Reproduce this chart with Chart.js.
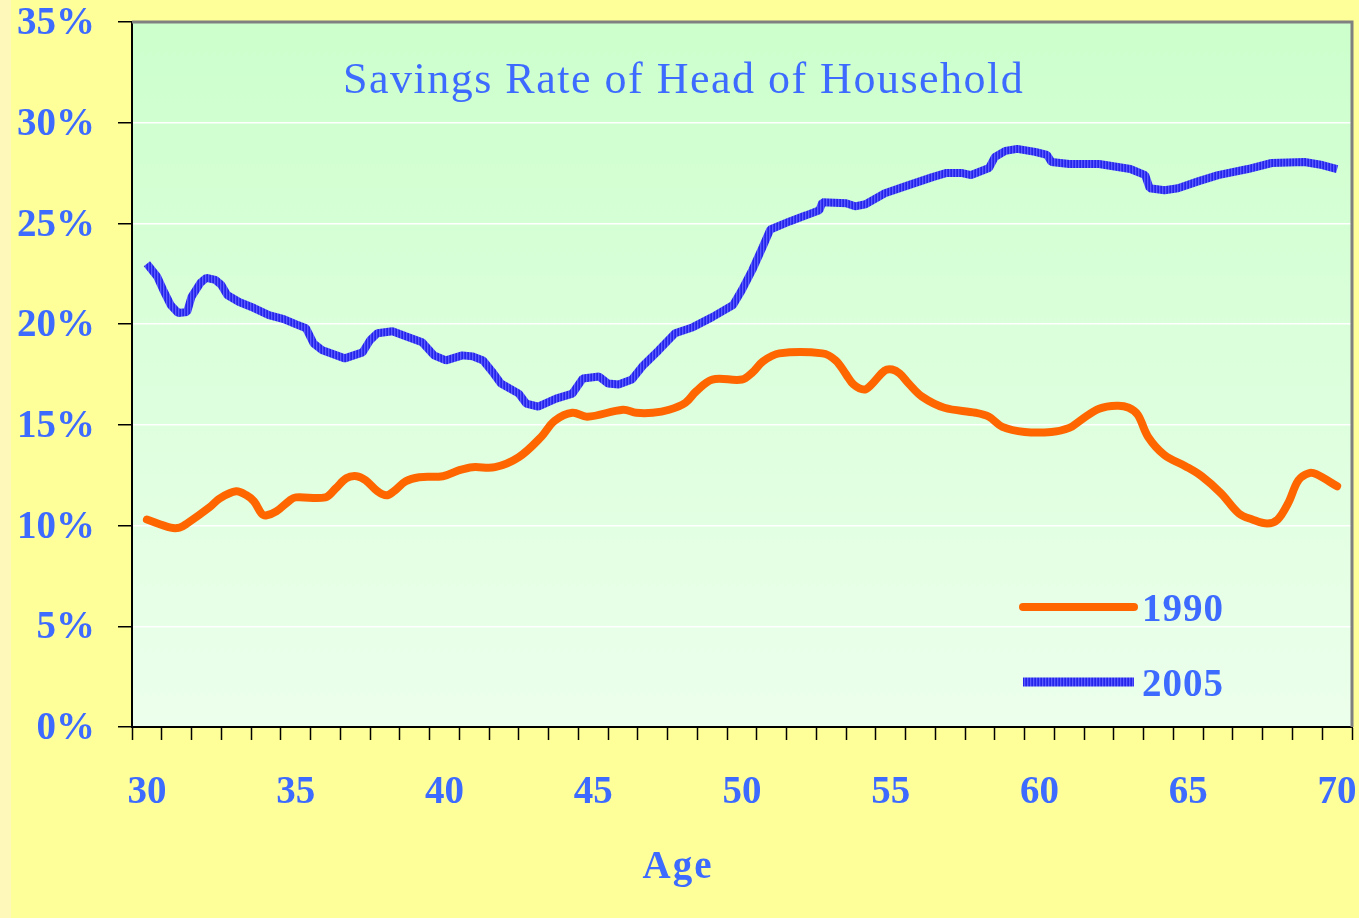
<!DOCTYPE html>
<html lang="en">
<head>
    <meta charset="UTF-8">
    <title>Savings Rate of Head of Household</title>
    <script src="https://cdn.jsdelivr.net/npm/chart.js"></script>
    <style>
        body {
            margin: 0;
            padding: 0;
            background: linear-gradient(to right, #fff8bb 0, #fff8bb 11px, #ffff99 11px);
            width: 1359px;
            height: 918px;
            overflow: hidden;
        }
        #chart {
            display: block;
        }
    </style>
</head>
<body>
    <canvas id="chart" width="1359" height="918"></canvas>

    <script>
        // ages sampled from the picture and the matching savings rates (%)
        const ages1990 = [30.0, 30.8, 31.1, 31.35, 32.1, 32.45, 33.0, 33.35, 33.6, 33.85, 34.0, 34.35, 34.8, 35.0, 36.0, 36.35, 36.7, 37.05, 37.35, 37.75, 38.05, 38.3, 38.7, 39.15, 39.95, 40.5, 40.95, 41.7, 42.5, 43.25, 43.7, 44.3, 44.8, 46.0, 46.45, 47.0, 47.55, 48.1, 48.45, 49.0, 50.0, 50.35, 50.7, 51.25, 52.7, 53.15, 53.5, 53.75, 54.1, 54.35, 54.8, 55.05, 55.3, 55.6, 56.05, 56.8, 57.85, 58.3, 58.75, 59.5, 60.4, 61.0, 61.4, 62.0, 62.6, 63.0, 63.3, 63.65, 64.2, 64.9, 65.45, 66.1, 66.7, 67.15, 67.65, 68.0, 68.35, 68.7, 69.05, 69.3, 70.0];
        const rate1990 = [10.3, 9.9, 9.9, 10.1, 10.9, 11.35, 11.7, 11.5, 11.2, 10.6, 10.5, 10.7, 11.25, 11.4, 11.4, 11.85, 12.35, 12.45, 12.25, 11.7, 11.5, 11.7, 12.2, 12.4, 12.45, 12.75, 12.9, 12.9, 13.4, 14.4, 15.2, 15.6, 15.4, 15.75, 15.6, 15.6, 15.75, 16.1, 16.65, 17.25, 17.25, 17.6, 18.15, 18.55, 18.55, 18.2, 17.5, 17.0, 16.75, 17.0, 17.7, 17.75, 17.55, 17.05, 16.4, 15.85, 15.6, 15.4, 14.9, 14.65, 14.65, 14.85, 15.25, 15.8, 15.95, 15.85, 15.5, 14.4, 13.5, 12.95, 12.45, 11.6, 10.6, 10.3, 10.1, 10.3, 11.1, 12.25, 12.6, 12.55, 11.95];

        const ages2005 = [30.0, 30.35, 30.55, 30.8, 31.05, 31.35, 31.5, 31.8, 32.0, 32.3, 32.5, 32.7, 33.1, 33.6, 34.1, 34.6, 35.0, 35.35, 35.6, 35.9, 36.65, 37.25, 37.5, 37.75, 38.25, 38.7, 39.25, 39.65, 40.05, 40.6, 40.95, 41.3, 41.6, 41.9, 42.5, 42.75, 43.15, 43.75, 44.3, 44.65, 45.2, 45.5, 45.85, 46.3, 46.65, 47.2, 47.75, 48.35, 49.0, 49.7, 50.0, 50.35, 50.7, 50.95, 51.6, 52.15, 52.6, 52.7, 53.5, 53.8, 54.15, 54.8, 55.6, 56.4, 56.85, 57.4, 57.7, 58.3, 58.5, 58.85, 59.25, 59.85, 60.25, 60.4, 61.0, 62.0, 63.05, 63.55, 63.7, 64.2, 64.65, 65.35, 66.0, 67.0, 67.8, 68.9, 69.5, 70.0];
        const rate2005 = [23.0, 22.35, 21.7, 20.95, 20.55, 20.6, 21.35, 22.05, 22.3, 22.2, 21.95, 21.45, 21.1, 20.8, 20.45, 20.25, 20.0, 19.8, 19.05, 18.7, 18.3, 18.6, 19.2, 19.55, 19.65, 19.4, 19.1, 18.45, 18.2, 18.45, 18.4, 18.2, 17.65, 17.05, 16.55, 16.05, 15.9, 16.3, 16.55, 17.3, 17.4, 17.05, 17.0, 17.25, 17.9, 18.7, 19.55, 19.85, 20.35, 20.95, 21.7, 22.7, 23.85, 24.7, 25.1, 25.4, 25.65, 26.05, 26.0, 25.85, 25.95, 26.5, 26.9, 27.3, 27.5, 27.5, 27.4, 27.75, 28.3, 28.6, 28.7, 28.55, 28.4, 28.05, 27.95, 27.95, 27.7, 27.4, 26.75, 26.65, 26.75, 27.1, 27.4, 27.7, 28.0, 28.05, 27.9, 27.7];

        // one tick mark per year, a label every 5 years
        const ageTicks = [];
        for (let a = 30; a <= 70; a++) ageTicks.push(a);
        const ageLabels = [30, 35, 40, 45, 50, 55, 60, 65, 70];

        const seriesNames = ['1990', '2005'];
        const chartTitle = 'Savings Rate of Head of Household';
        const xTitle = 'Age';

        const textBlue = '#3d6bff';
        const orange = '#ff6600';
        const serif = "'Liberation Serif', 'Times New Roman', serif";

        // striped blue stroke like the original line
        function stripePattern(ctx) {
            const c = document.createElement('canvas');
            c.width = 3;
            c.height = 4;
            const p = c.getContext('2d');
            p.fillStyle = '#2525e8'; p.fillRect(0, 0, 1, 4);
            p.fillStyle = '#5a5aff'; p.fillRect(1, 0, 1, 4);
            p.fillStyle = '#3535f4'; p.fillRect(2, 0, 1, 4);
            return ctx.createPattern(c, 'repeat');
        }

        const canvas = document.getElementById('chart');
        const blueStripes = stripePattern(canvas.getContext('2d'));

        const toPoints = (xs, ys) => xs.map((x, i) => ({ x: x, y: ys[i] }));

        const decor = {
            id: 'decor',
            beforeDraw(chart) {
                const { ctx, chartArea: a } = chart;
                const g = ctx.createLinearGradient(0, a.top, 0, a.bottom);
                g.addColorStop(0, '#ccffcc');
                g.addColorStop(1, '#ecffec');
                ctx.save();
                ctx.fillStyle = g;
                ctx.fillRect(a.left, a.top, a.right - a.left, a.bottom - a.top);
                ctx.restore();
            },
            afterDraw(chart) {
                const { ctx, chartArea: a } = chart;
                ctx.save();
                // grey frame on top and right
                ctx.strokeStyle = '#808080';
                ctx.lineWidth = 3;
                ctx.beginPath();
                ctx.moveTo(a.left, a.top);
                ctx.lineTo(a.right, a.top);
                ctx.lineTo(a.right, a.bottom);
                ctx.stroke();

                // title inside the plot
                ctx.fillStyle = textBlue;
                ctx.textBaseline = 'alphabetic';
                ctx.textAlign = 'left';
                ctx.font = '44px ' + serif;
                ctx.letterSpacing = '1.5px';
                ctx.fillText(chartTitle, a.left + 211, a.top + 71);

                // axis title
                ctx.font = 'bold 39px ' + serif;
                ctx.letterSpacing = '2px';
                ctx.textAlign = 'center';
                ctx.fillText(xTitle, a.left + 546, a.bottom + 151);

                // legend
                const lx0 = a.left + 891, lx1 = a.left + 1002;
                const rows = [
                    { y: a.bottom - 120, style: orange, cap: 'round', w: 8 },
                    { y: a.bottom - 45, style: blueStripes, cap: 'butt', w: 9 }
                ];
                ctx.letterSpacing = '1px';
                ctx.textAlign = 'left';
                rows.forEach((r, i) => {
                    ctx.strokeStyle = r.style;
                    ctx.lineCap = r.cap;
                    ctx.lineWidth = r.w;
                    ctx.beginPath();
                    ctx.moveTo(lx0, r.y);
                    ctx.lineTo(lx1, r.y);
                    ctx.stroke();
                    ctx.fillStyle = textBlue;
                    ctx.fillText(seriesNames[i], lx1 + 8, r.y + 14);
                });
                ctx.restore();
            }
        };

        new Chart(canvas, {
            type: 'line',
            data: {
                datasets: [
                    {
                        label: seriesNames[0],
                        data: toPoints(ages1990, rate1990),
                        borderColor: orange,
                        borderWidth: 8,
                        borderCapStyle: 'round',
                        borderJoinStyle: 'round',
                        tension: 0.35,
                        pointRadius: 0,
                        fill: false
                    },
                    {
                        label: seriesNames[1],
                        data: toPoints(ages2005, rate2005),
                        borderColor: blueStripes,
                        borderWidth: 8,
                        borderCapStyle: 'butt',
                        borderJoinStyle: 'bevel',
                        tension: 0,
                        pointRadius: 0,
                        fill: false
                    }
                ]
            },
            options: {
                responsive: false,
                animation: false,
                layout: { padding: { top: 22, right: 7, left: 0, bottom: 0 } },
                plugins: {
                    legend: { display: false },
                    tooltip: { enabled: false },
                    title: { display: false }
                },
                scales: {
                    x: {
                        type: 'linear',
                        min: 29.5,
                        max: 70.5,
                        offset: false,
                        afterBuildTicks: (scale) => {
                            scale.ticks = ageTicks.map(v => ({ value: v }));
                        },
                        afterFit: (scale) => {
                            scale.height = 191;
                            scale.paddingLeft = 0;
                            scale.paddingRight = 0;
                        },
                        grid: {
                            offset: true,
                            drawOnChartArea: false,
                            tickColor: '#000',
                            tickLength: 13,
                            tickWidth: 1.5
                        },
                        border: { color: '#000', width: 2 },
                        ticks: {
                            autoSkip: false,
                            maxRotation: 0,
                            padding: 30,
                            color: textBlue,
                            font: { family: serif, size: 39, weight: 'bold' },
                            callback: (v) => ageLabels.includes(v) ? String(v) : ''
                        }
                    },
                    y: {
                        min: 0,
                        max: 35,
                        afterFit: (scale) => {
                            scale.width = 132;
                            scale.paddingTop = 0;
                            scale.paddingBottom = 0;
                        },
                        grid: {
                            color: '#ffffff',
                            lineWidth: 1.5,
                            tickColor: '#000',
                            tickLength: 14,
                            tickWidth: 1.5
                        },
                        border: { color: '#000', width: 2 },
                        ticks: {
                            stepSize: 5,
                            padding: 23,
                            labelOffset: 2,
                            color: textBlue,
                            font: { family: serif, size: 39, weight: 'bold' },
                            callback: (v) => v + '%'
                        }
                    }
                }
            },
            plugins: [decor]
        });
    </script>
</body>
</html>
